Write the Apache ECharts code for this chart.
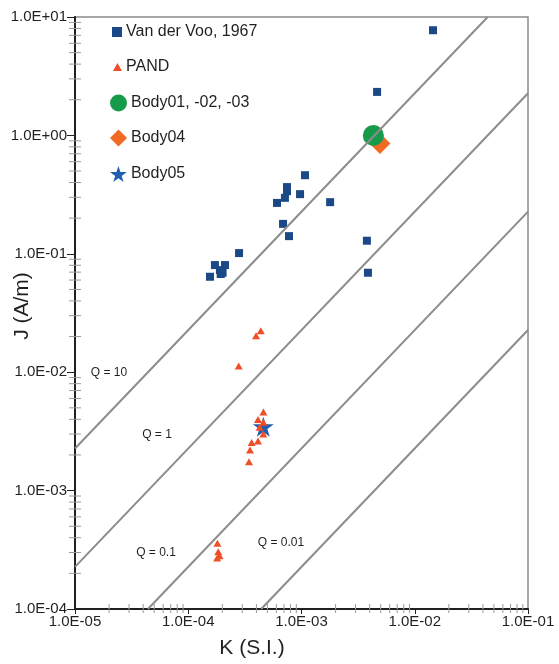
<!DOCTYPE html>
<html>
<head>
<meta charset="utf-8">
<script src="https://cdn.jsdelivr.net/npm/echarts@6/dist/echarts.min.js"></script>
<style>html,body{margin:0;padding:0;background:#fff}#c{width:559px;height:664px}</style>
</head>
<body>
<div id="c"></div>
<script>
// ---- data (K in S.I., J in A/m) ----
const vanDerVooK = [0.01449, 0.00465, 0.001074, 0.000745, 0.000745, 0.000714, 0.000971, 0.000608, 0.00179, 0.000687, 0.000776, 0.000281, 0.00378, 0.00386, 0.000172, 0.000211, 0.0001905, 0.000201, 0.0001935, 0.0001556];
const vanDerVooJ = [7.73, 2.33, 0.461, 0.366, 0.338, 0.297, 0.319, 0.269, 0.273, 0.179, 0.141, 0.1014, 0.129, 0.0692, 0.0803, 0.0803, 0.0728, 0.0692, 0.0675, 0.064];
const pandK = [0.000437, 0.000397, 0.000279, 0.000461, 0.000413, 0.00046, 0.000427, 0.00046, 0.000413, 0.000363, 0.000351, 0.000344, 0.000181, 0.000184, 0.000189, 0.00018];
const pandJ = [0.0224, 0.0203, 0.01127, 0.00461, 0.00399, 0.00378, 0.00343, 0.00301, 0.00262, 0.00255, 0.0022, 0.00175, 0.00036, 0.000304, 0.000282, 0.000269];
const body0103K = [0.00431];
const body0103J = [1.0];
const body04K = [0.00493];
const body04J = [0.855];
const body05K = [0.00046];
const body05J = [0.00347];
const qValues = [10, 1, 0.1, 0.01];
const qLabels = ['Q = 10', 'Q = 1', 'Q = 0.1', 'Q = 0.01'];
const H_FIELD = 22.7; // A/m, ambient field used for Koenigsberger ratio lines
const xTickLabels = ['1.0E-05', '1.0E-04', '1.0E-03', '1.0E-02', '1.0E-01'];
const yTickLabels = ['1.0E-04', '1.0E-03', '1.0E-02', '1.0E-01', '1.0E+00', '1.0E+01'];

const X_MIN = 1e-5, X_MAX = 1e-1, Y_MIN = 1e-4, Y_MAX = 10;
const zip = (a, b) => a.map((v, i) => [v, b[i]]);
function lbl(v, arr, minExp) {
  const e = Math.round(Math.log10(v));
  return arr[e - minExp] || '';
}
const STAR = 'path://M50,0L61.23,34.55L97.55,34.55L68.17,55.9L79.39,90.45L50,69.1L20.61,90.45L31.83,55.9L2.45,34.55L38.77,34.55Z';

// minor tick values
const xMinor = [], yMinor = [];
for (let e = -5; e < -1; e++) for (let m = 2; m <= 9; m++) xMinor.push(m * Math.pow(10, e));
for (let e = -4; e < 1; e++) for (let m = 2; m <= 9; m++) yMinor.push(m * Math.pow(10, e));

const qSeries = qValues.map(q => {
  const k1 = Math.max(X_MIN, Y_MIN / (q * H_FIELD));
  const k2 = Math.min(X_MAX, Y_MAX / (q * H_FIELD));
  return {
    type: 'line', name: 'Q' + q, data: [[k1, q * H_FIELD * k1], [k2, q * H_FIELD * k2]],
    showSymbol: false, symbol: 'none', silent: true, z: 5,
    lineStyle: { color: '#8c8c8c', width: 2 }
  };
});

const FF = 'Liberation Sans, Arial, sans-serif';
const textStyleBase = { fontFamily: FF, color: '#231f20' };

const chart = echarts.init(document.getElementById('c'), null, { renderer: 'canvas' });
const legendDefs = [
  { name: 'Van der Voo, 1967', icon: 'rect', w: 10, h: 10, left: 112, cy: 32 },
  { name: 'PAND', icon: 'triangle', w: 9, h: 8, left: 113, cy: 67 },
  { name: 'Body01, -02, -03', icon: 'circle', w: 17, h: 17, left: 110, cy: 103 },
  { name: 'Body04', icon: 'diamond', w: 17, h: 17, left: 110, cy: 138 },
  { name: 'Body05', icon: STAR, w: 17, h: 16, left: 110, cy: 174 }
];
const legends = legendDefs.map(d => ({
  data: [{ name: d.name, icon: d.icon }],
  left: d.left, top: d.cy - 9, itemWidth: d.w, itemHeight: d.h, itemGap: 0, padding: 0,
  selectedMode: false,
  textStyle: Object.assign({}, textStyleBase, { fontSize: 16, lineHeight: 18, padding: [0, 0, 0, -1] })
}));

function txt(x, y, text, size, rot) {
  return { type: 'text', x: x, y: y, rotation: rot || 0, style: { text: text, fontSize: size, textAlign: 'center', textVerticalAlign: 'middle', fontFamily: FF, fill: '#231f20' } };
}

const option = {
  animation: false,
  backgroundColor: '#fff',
  legend: legends,
  grid: { left: 75, right: 31, top: 17, bottom: 55, show: true, borderColor: '#8a8a8a', borderWidth: 1.5, backgroundColor: 'transparent' },
  xAxis: {
    type: 'log', logBase: 10, min: X_MIN, max: X_MAX, splitNumber: 4,
    axisLine: { show: true, lineStyle: { color: '#231f20', width: 2 } },
    axisTick: { show: true, length: 5, lineStyle: { color: '#231f20', width: 1 } },
    minorTick: { show: false }, splitLine: { show: false },
    axisLabel: Object.assign({ fontSize: 15, margin: 5, formatter: v => lbl(v, xTickLabels, -5), showMinLabel: true, showMaxLabel: true }, textStyleBase)
  },
  yAxis: {
    type: 'log', logBase: 10, min: Y_MIN, max: Y_MAX, splitNumber: 5,
    axisLine: { show: true, lineStyle: { color: '#231f20', width: 2 } },
    axisTick: { show: true, length: 8, lineStyle: { color: '#231f20', width: 1 } },
    minorTick: { show: false }, splitLine: { show: false },
    axisLabel: Object.assign({ fontSize: 15, margin: 8, formatter: v => lbl(v, yTickLabels, -4), showMinLabel: true, showMaxLabel: true }, textStyleBase)
  },
  graphic: [
    txt(252, 648, 'K (S.I.)', 21),
    txt(22, 306, 'J (A/m)', 21, Math.PI / 2),
    txt(109, 373, qLabels[0], 12),
    txt(157, 435, qLabels[1], 12),
    txt(156, 553, qLabels[2], 12),
    txt(281, 543, qLabels[3], 12)
  ],
  series: [
    {
      type: 'custom', name: 'xminor', silent: true, clip: false, z: 3,
      data: xMinor,
      encode: { x: 0 },
      renderItem: (params, api) => {
        const p = api.coord([api.value(0), Y_MIN]);
        return { type: 'line', shape: { x1: p[0], y1: p[1] - 5, x2: p[0], y2: p[1] + 4 }, style: { stroke: '#9a9a9a', lineWidth: 1 } };
      }
    },
    {
      type: 'custom', name: 'yminor', silent: true, clip: false, z: 3,
      data: yMinor.map(v => [X_MIN, v]),
      encode: { x: 0, y: 1 },
      renderItem: (params, api) => {
        const p = api.coord([X_MIN, api.value(1)]);
        return { type: 'line', shape: { x1: p[0] - 6, y1: p[1], x2: p[0] + 6, y2: p[1] }, style: { stroke: '#9a9a9a', lineWidth: 1 } };
      }
    },
    {
      type: 'scatter', name: 'Van der Voo, 1967', data: zip(vanDerVooK, vanDerVooJ),
      symbol: 'rect', symbolSize: 8, itemStyle: { color: '#1b4886', opacity: 1 }, z: 2
    },
    {
      type: 'scatter', name: 'Body05', data: zip(body05K, body05J),
      symbol: STAR, symbolSize: [21, 20], itemStyle: { color: '#1f5fae', opacity: 1 }, z: 2
    },
    {
      type: 'scatter', name: 'PAND', data: zip(pandK, pandJ),
      symbol: 'triangle', symbolSize: [8, 7], itemStyle: { color: '#f04e28', opacity: 1 }, z: 3
    },
    {
      type: 'scatter', name: 'Body04', data: zip(body04K, body04J),
      symbol: 'diamond', symbolSize: 21, itemStyle: { color: '#f26a22', opacity: 1 }, z: 2
    },
    {
      type: 'scatter', name: 'Body01, -02, -03', data: zip(body0103K, body0103J),
      symbol: 'circle', symbolSize: 21, itemStyle: { color: '#169b4a', opacity: 1 }, z: 3
    }
  ].concat(qSeries)
};
chart.setOption(option);
</script>
</body>
</html>
